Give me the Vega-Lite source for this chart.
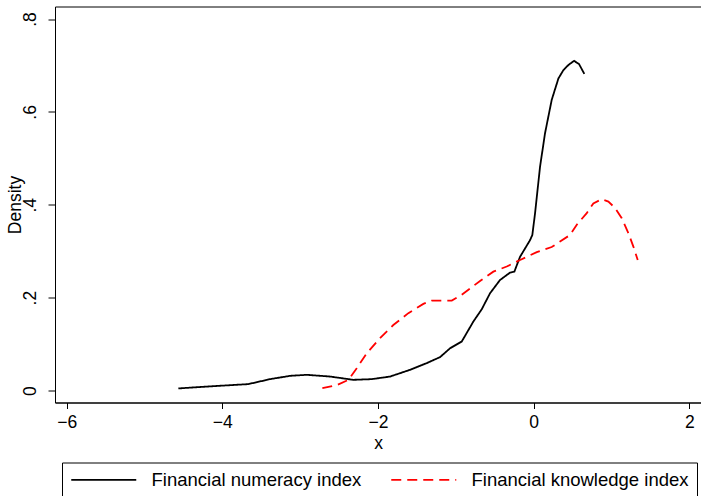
{
  "$schema": "https://vega.github.io/schema/vega-lite/v6.json",
  "width": 646,
  "height": 396,
  "autosize": {"type": "none"},
  "padding": {"left": 55, "top": 6.5, "right": 0, "bottom": 93.5},
  "background": "white",
  "config": {
    "view": {"stroke": "#000", "strokeWidth": 1},
    "font": "Liberation Sans",
    "axis": {"grid": false, "domainColor": "#000", "tickColor": "#000", "labelColor": "#000", "titleColor": "#000", "labelFont": "Liberation Sans", "titleFont": "Liberation Sans", "titleFontWeight": "normal", "labelFontSize": 17.5, "titleFontSize": 17.5}
  },
  "data": {"values": [
    {"x": -4.565, "y": 0.0045, "s": "Financial numeracy index"},
    {"x": -4.2, "y": 0.0085, "s": "Financial numeracy index"},
    {"x": -3.9, "y": 0.0115, "s": "Financial numeracy index"},
    {"x": -3.666, "y": 0.0138, "s": "Financial numeracy index"},
    {"x": -3.387, "y": 0.0245, "s": "Financial numeracy index"},
    {"x": -3.13, "y": 0.0316, "s": "Financial numeracy index"},
    {"x": -2.915, "y": 0.0338, "s": "Financial numeracy index"},
    {"x": -2.616, "y": 0.0301, "s": "Financial numeracy index"},
    {"x": -2.317, "y": 0.023, "s": "Financial numeracy index"},
    {"x": -2.08, "y": 0.0245, "s": "Financial numeracy index"},
    {"x": -1.845, "y": 0.0301, "s": "Financial numeracy index"},
    {"x": -1.588, "y": 0.0446, "s": "Financial numeracy index"},
    {"x": -1.374, "y": 0.059, "s": "Financial numeracy index"},
    {"x": -1.203, "y": 0.0719, "s": "Financial numeracy index"},
    {"x": -1.074, "y": 0.091, "s": "Financial numeracy index"},
    {"x": -0.924, "y": 0.1055, "s": "Financial numeracy index"},
    {"x": -0.775, "y": 0.1485, "s": "Financial numeracy index"},
    {"x": -0.667, "y": 0.175, "s": "Financial numeracy index"},
    {"x": -0.56, "y": 0.2096, "s": "Financial numeracy index"},
    {"x": -0.432, "y": 0.238, "s": "Financial numeracy index"},
    {"x": -0.303, "y": 0.254, "s": "Financial numeracy index"},
    {"x": -0.248, "y": 0.256, "s": "Financial numeracy index"},
    {"x": -0.175, "y": 0.288, "s": "Financial numeracy index"},
    {"x": -0.046, "y": 0.324, "s": "Financial numeracy index"},
    {"x": -0.017, "y": 0.335, "s": "Financial numeracy index"},
    {"x": 0.018, "y": 0.382, "s": "Financial numeracy index"},
    {"x": 0.082, "y": 0.482, "s": "Financial numeracy index"},
    {"x": 0.146, "y": 0.554, "s": "Financial numeracy index"},
    {"x": 0.232, "y": 0.626, "s": "Financial numeracy index"},
    {"x": 0.318, "y": 0.672, "s": "Financial numeracy index"},
    {"x": 0.382, "y": 0.69, "s": "Financial numeracy index"},
    {"x": 0.446, "y": 0.701, "s": "Financial numeracy index"},
    {"x": 0.519, "y": 0.71, "s": "Financial numeracy index"},
    {"x": 0.583, "y": 0.703, "s": "Financial numeracy index"},
    {"x": 0.651, "y": 0.682, "s": "Financial numeracy index"},
    {"x": -2.715, "y": 0.005, "s": "Financial knowledge index"},
    {"x": -2.53, "y": 0.0116, "s": "Financial knowledge index"},
    {"x": -2.38, "y": 0.023, "s": "Financial knowledge index"},
    {"x": -2.273, "y": 0.048, "s": "Financial knowledge index"},
    {"x": -2.145, "y": 0.08, "s": "Financial knowledge index"},
    {"x": -1.974, "y": 0.113, "s": "Financial knowledge index"},
    {"x": -1.803, "y": 0.141, "s": "Financial knowledge index"},
    {"x": -1.61, "y": 0.1666, "s": "Financial knowledge index"},
    {"x": -1.417, "y": 0.1866, "s": "Financial knowledge index"},
    {"x": -1.31, "y": 0.1937, "s": "Financial knowledge index"},
    {"x": -1.052, "y": 0.1937, "s": "Financial knowledge index"},
    {"x": -0.924, "y": 0.206, "s": "Financial knowledge index"},
    {"x": -0.689, "y": 0.236, "s": "Financial knowledge index"},
    {"x": -0.518, "y": 0.256, "s": "Financial knowledge index"},
    {"x": -0.346, "y": 0.267, "s": "Financial knowledge index"},
    {"x": -0.175, "y": 0.281, "s": "Financial knowledge index"},
    {"x": 0.04, "y": 0.298, "s": "Financial knowledge index"},
    {"x": 0.232, "y": 0.309, "s": "Financial knowledge index"},
    {"x": 0.339, "y": 0.321, "s": "Financial knowledge index"},
    {"x": 0.468, "y": 0.335, "s": "Financial knowledge index"},
    {"x": 0.554, "y": 0.357, "s": "Financial knowledge index"},
    {"x": 0.682, "y": 0.382, "s": "Financial knowledge index"},
    {"x": 0.767, "y": 0.403, "s": "Financial knowledge index"},
    {"x": 0.875, "y": 0.412, "s": "Financial knowledge index"},
    {"x": 0.96, "y": 0.407, "s": "Financial knowledge index"},
    {"x": 1.046, "y": 0.393, "s": "Financial knowledge index"},
    {"x": 1.132, "y": 0.371, "s": "Financial knowledge index"},
    {"x": 1.217, "y": 0.339, "s": "Financial knowledge index"},
    {"x": 1.281, "y": 0.31, "s": "Financial knowledge index"},
    {"x": 1.337, "y": 0.281, "s": "Financial knowledge index"}
  ]},
  "mark": {"type": "line", "strokeWidth": 1.8, "interpolate": "linear"},
  "encoding": {
    "x": {"field": "x", "type": "quantitative", "scale": {"domain": [-6.15, 2.15], "nice": false, "zero": false},
      "axis": {"values": [-6, -4, -2, 0, 2], "title": "x", "tickSize": 6, "labelPadding": 5, "titlePadding": 3, "domainWidth": 1}},
    "y": {"field": "y", "type": "quantitative", "scale": {"domain": [-0.0258, 0.827], "nice": false, "zero": false},
      "axis": {"values": [0, 0.2, 0.4, 0.6, 0.8], "title": "Density", "tickSize": 7, "labelAngle": -90, "labelAlign": "center", "labelBaseline": "bottom", "labelPadding": 9, "titlePadding": -3,
        "labelExpr": "datum.value == 0 ? '0' : replace(format(datum.value, '.1f'), '0.', '.')"}},
    "color": {"field": "s", "type": "nominal",
      "scale": {"domain": ["Financial numeracy index", "Financial knowledge index"], "range": ["#000000", "#ff0000"]},
      "legend": {"title": null, "orient": "none", "legendX": 7, "legendY": 456, "direction": "horizontal", "columns": 2,
        "strokeColor": "#000", "padding": 8, "symbolSize": 100, "symbolType": "M-1.6,0H11.4", "symbolStrokeWidth": 1.8,
        "labelFontSize": 18.5, "labelFont": "Liberation Sans", "labelColor": "#000", "labelOffset": 63, "columnPadding": 25, "labelLimit": 400}},
    "strokeDash": {"field": "s", "type": "nominal",
      "scale": {"domain": ["Financial numeracy index", "Financial knowledge index"], "range": [[1, 0], [10, 6]]},
      "legend": {"title": null}}
  }
}
